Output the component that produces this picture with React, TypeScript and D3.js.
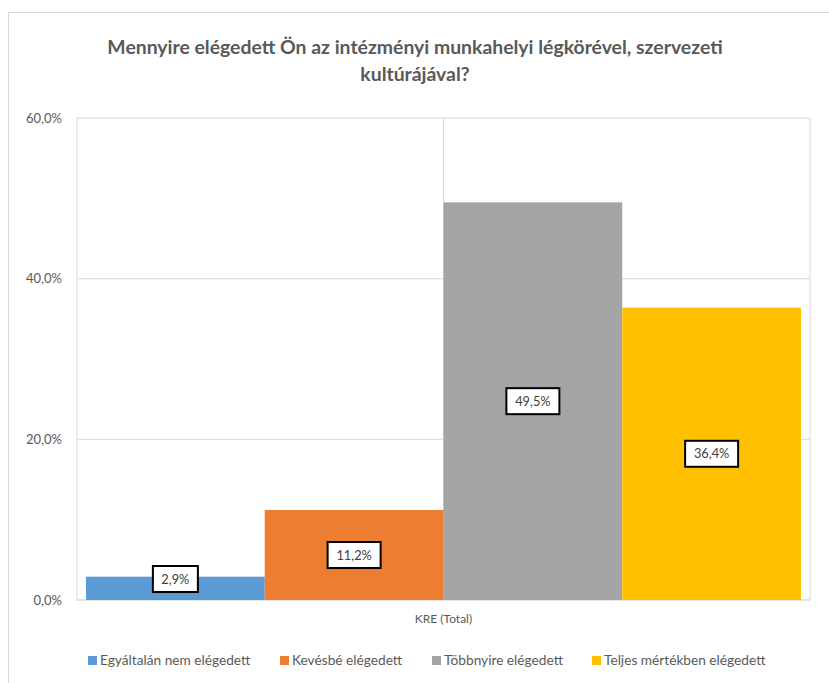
import React from "react";
import * as d3 from "d3";

const title = ["Mennyire elégedett Ön az intézményi munkahelyi légkörével, szervezeti", "kultúrájával?"];
const categories = ["KRE (Total)"];
const seriesNames = ["Egyáltalán nem elégedett", "Kevésbé elégedett", "Többnyire elégedett", "Teljes mértékben elégedett"];
const seriesValues = [2.9, 11.2, 49.5, 36.4];
const seriesColors = ["#5B9BD5", "#ED7D31", "#A5A5A5", "#FFC000"];
const yTicks = [0, 20, 40, 60];
const legendX = [88, 280, 432, 592];

const W = 829;
const H = 683;
const plot = { left: 77, right: 810, top: 118, bottom: 600 };
const FONT = "Lato, 'Open Sans', sans-serif";
const fmt = (v: number) => v.toFixed(1).replace(".", ",") + "%";

export default function App() {
  const y = d3.scaleLinear().domain([0, 60]).range([plot.bottom, plot.top]);
  const x0 = d3.scaleBand<string>().domain(categories).range([plot.left, plot.right]).paddingInner(0).paddingOuter(0.0126);
  const x1 = d3.scaleBand<string>().domain(seriesNames).range([0, x0.bandwidth()]);
  const cat = categories[0];
  const catCenter = (x0(cat) as number) + x0.bandwidth() / 2;

  return (
    <svg width={W} height={H} style={{ position: "absolute", left: 0, top: 0, background: "#fff" }} fontFamily={FONT}>
      <rect x={0} y={0} width={W} height={H} fill="#fff" />
      {/* outer chart border */}
      <path d={`M8.5,${H + 2} V12.5 H${W + 2}`} fill="none" stroke="#D9D9D9" strokeWidth={1} />
      {/* title */}
      {title.map((t, i) => (
        <text key={i} x={415} y={54 + i * 27} textAnchor="middle" fontSize={19.4} fontWeight="bold" fill="#595959">
          {t}
        </text>
      ))}
      {/* horizontal gridlines */}
      {yTicks.map((t) => (
        <line key={t} x1={plot.left} x2={plot.right} y1={y(t)} y2={y(t)} stroke="#D9D9D9" strokeWidth={t === 0 ? 1.5 : 1} />
      ))}
      {/* vertical gridlines */}
      {[plot.left, catCenter, plot.right].map((vx, i) => (
        <line key={i} x1={vx} x2={vx} y1={plot.top} y2={plot.bottom} stroke="#D9D9D9" strokeWidth={1} />
      ))}
      {/* y tick labels */}
      {yTicks.map((t) => (
        <text key={t} x={62} y={y(t)} dy="0.35em" textAnchor="end" fontSize={13} fill="#595959">
          {fmt(t)}
        </text>
      ))}
      {/* bars */}
      {seriesNames.map((s, i) => (
        <rect
          key={s}
          x={(x0(cat) as number) + (x1(s) as number)}
          y={y(seriesValues[i])}
          width={x1.bandwidth()}
          height={plot.bottom - y(seriesValues[i])}
          fill={seriesColors[i]}
        />
      ))}
      {/* data labels */}
      {seriesNames.map((s, i) => {
        const cx = (x0(cat) as number) + (x1(s) as number) + x1.bandwidth() / 2;
        const mid = (y(seriesValues[i]) + plot.bottom) / 2;
        const cy = Math.min(mid, plot.bottom - 21);
        const bw = i === 0 ? 45 : 53;
        const bh = 26;
        return (
          <g key={s}>
            <rect x={cx - bw / 2} y={cy - bh / 2} width={bw} height={bh} fill="#fff" stroke="#000" strokeWidth={2} />
            <text x={cx} y={cy} dy="0.36em" textAnchor="middle" fontSize={12.8} fill="#404040">
              {fmt(seriesValues[i])}
            </text>
          </g>
        );
      })}
      {/* category label */}
      <text x={catCenter} y={619} dy="0.35em" textAnchor="middle" fontSize={12} fill="#595959">
        {cat}
      </text>
      {/* legend */}
      {seriesNames.map((s, i) => (
        <g key={s}>
          <rect x={legendX[i]} y={656} width={9} height={9} fill={seriesColors[i]} />
          <text x={legendX[i] + 12} y={660.5} dy="0.36em" fontSize={13.7} fill="#595959">
            {s}
          </text>
        </g>
      ))}
    </svg>
  );
}
